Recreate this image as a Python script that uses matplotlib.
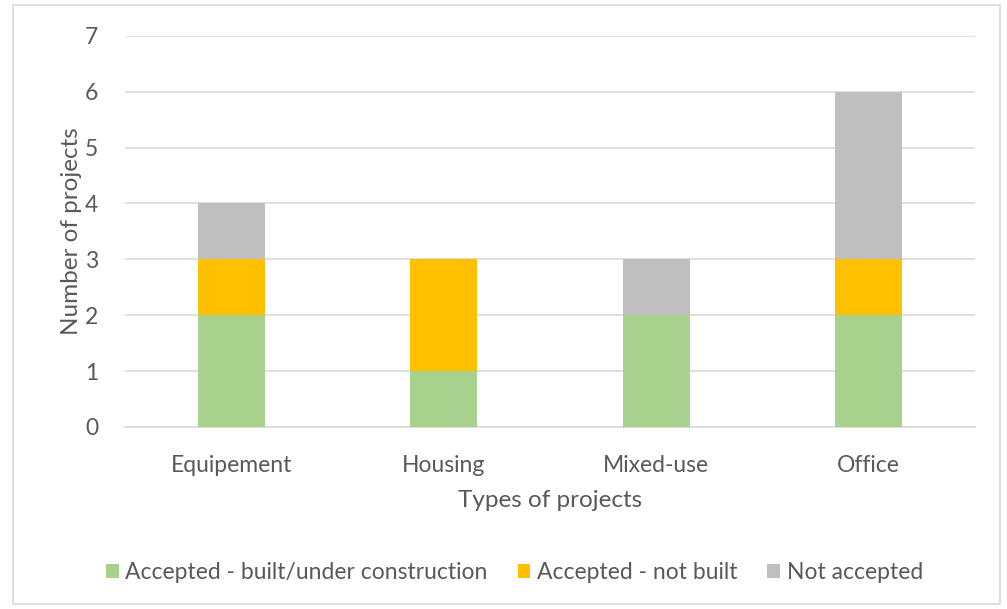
import matplotlib
matplotlib.use("Agg")
import matplotlib.pyplot as plt
import numpy as np

categories = ["Equipement", "Housing", "Mixed-use", "Office"]
built = [2, 1, 2, 2]
not_built = [1, 2, 0, 1]
not_accepted = [1, 0, 1, 3]
series_names = ["Accepted - built/under construction", "Accepted - not built", "Not accepted"]
colors = ["#A9D18E", "#FFC000", "#BFBFBF"]

plt.rcParams['font.family'] = ['Lato', 'DejaVu Sans']
txt = "#595959"

fig = plt.figure(figsize=(10.07, 6.09), dpi=100)
ax = fig.add_axes([0.124, 0.299, 0.844, 0.642])

x = np.arange(len(categories))
w = 0.315
bottom = np.zeros(len(categories))
for vals, name, c in zip([built, not_built, not_accepted], series_names, colors):
    ax.bar(x, vals, w, bottom=bottom, color=c, label=name, zorder=3)
    bottom += np.array(vals)

ax.set_xlim(-0.5, len(categories) - 0.5)
ax.set_ylim(0, 7)
ax.set_yticks(range(8))
ax.set_xticks(x)
ax.set_xticklabels(categories)
ax.grid(axis="y", color="#D9D9D9", linewidth=1.2, zorder=0)
for s in ["top", "right", "left"]:
    ax.spines[s].set_visible(False)
ax.spines["bottom"].set_color("#D9D9D9")
ax.spines["bottom"].set_linewidth(1.2)
ax.tick_params(length=0, labelsize=16.5, colors=txt)
ax.tick_params(axis="x", pad=20)
ax.tick_params(axis="y", pad=19)
ax.set_xlabel("Types of projects", fontsize=17.5, color=txt, labelpad=10)
ax.set_ylabel("Number of projects", fontsize=17.5, color=txt, labelpad=2)

leg = fig.legend(loc="center", bbox_to_anchor=(0.511, 0.06), ncol=3, frameon=False,
                 fontsize=16.5, handlelength=0.55, handleheight=0.55, handletextpad=0.3,
                 columnspacing=1.3)
for t in leg.get_texts():
    t.set_color(txt)

border = plt.Rectangle((0.013, 0.008), 0.98, 0.984, transform=fig.transFigure,
                       fill=False, edgecolor="#D9D9D9", linewidth=1.2)
fig.patches.append(border)

fig.savefig("out.png", dpi=100)
